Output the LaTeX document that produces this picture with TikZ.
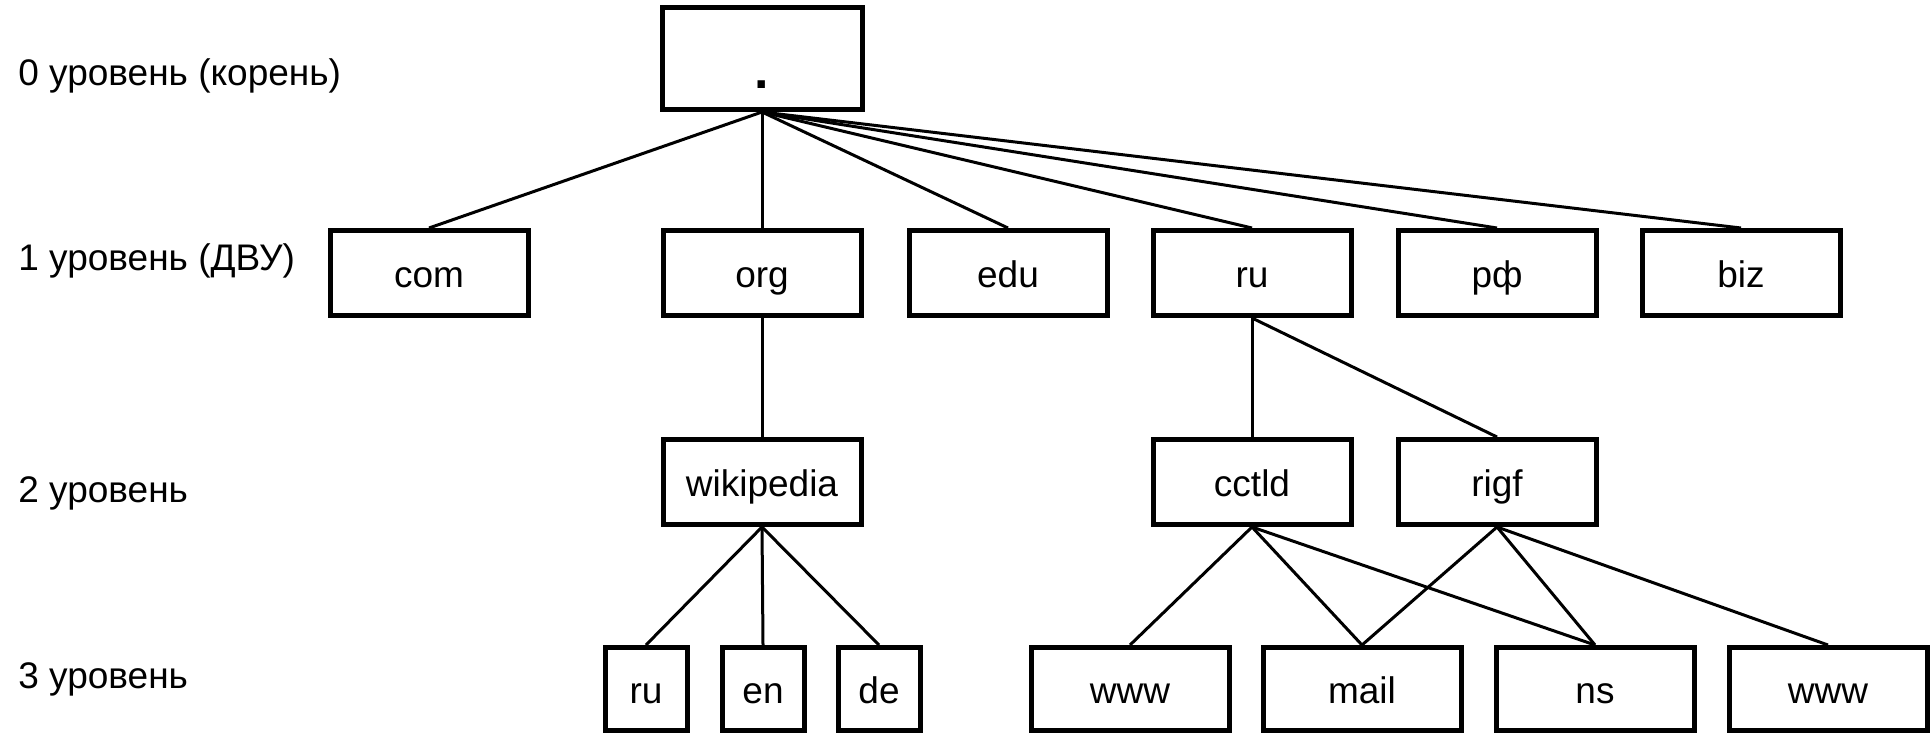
\documentclass[tikz,border=0pt]{standalone}
\usepackage{fontspec}
\setmainfont{Liberation Sans}
\begin{document}
\begin{tikzpicture}[x=0.5pt,y=-0.5pt,
		box/.style={draw,line width=2.5pt,minimum width=99pt,minimum height=42.5pt,inner sep=0pt,text height=16pt,text depth=2pt,font=\fontsize{18.5}{22}\selectfont},
		leaf/.style={box,minimum height=41.5pt},
		small/.style={leaf,minimum width=41pt},
		lvl/.style={anchor=base west,inner sep=0pt,font=\fontsize{18.5}{22}\selectfont},
		edge/.style={line width=1.5pt}]
		\useasboundingbox (0,0) rectangle (1931,735);
		\node[lvl] (lvl0) at (18,85) {0 уровень (корень)};
		\node[lvl] (lvl1) at (18,270) {1 уровень (ДВУ)};
		\node[lvl] (lvl2) at (18,502) {2 уровень};
		\node[lvl] (lvl3) at (18,688) {3 уровень};
		\node[box,minimum width=100pt,minimum height=51pt,text height=0pt,text depth=0pt,font=\fontsize{26}{30}\selectfont\bfseries] (root) at (762,58.5) {\raisebox{-15pt}{.}}; % корень
		\node[box] (com) at (429,273) {com};
		\node[box] (org) at (762,273) {org};
		\node[box] (edu) at (1008,273) {edu};
		\node[box] (ru) at (1252,273) {ru};
		\node[box] (rf) at (1497,273) {рф};
		\node[box] (biz) at (1741,273) {biz};
		\node[box] (wiki) at (762,482) {wikipedia};
		\node[box] (cctld) at (1252,482) {cctld};
		\node[box] (rigf) at (1497,482) {rigf};
		\node[small] (wru) at (646,689) {ru};
		\node[small] (wen) at (763,689) {en};
		\node[small] (wde) at (879,689) {de};
		\node[leaf] (www) at (1130,689) {www};
		\node[leaf] (mail) at (1362,689) {mail};
		\node[leaf] (ns) at (1595,689) {ns};
		\node[leaf] (wwwb) at (1828,689) {www};
		\draw[edge] (root.south) -- (com.north);
		\draw[edge] (root.south) -- (org.north);
		\draw[edge] (root.south) -- (edu.north);
		\draw[edge] (root.south) -- (ru.north);
		\draw[edge] (root.south) -- (rf.north);
		\draw[edge] (root.south) -- (biz.north);
		\draw[edge] (org.south) -- (wiki.north);
		\draw[edge] (wiki.south) -- (wru.north);
		\draw[edge] (wiki.south) -- (wen.north);
		\draw[edge] (wiki.south) -- (wde.north);
		\draw[edge] (ru.south) -- (cctld.north);
		\draw[edge] (ru.south) -- (rigf.north);
		\draw[edge] (cctld.south) -- (www.north);
		\draw[edge] (cctld.south) -- (mail.north);
		\draw[edge] (cctld.south) -- (ns.north);
		\draw[edge] (rigf.south) -- (mail.north);
		\draw[edge] (rigf.south) -- (ns.north);
		\draw[edge] (rigf.south) -- (wwwb.north); % узлы 3 уровня
\end{tikzpicture}
\end{document}
